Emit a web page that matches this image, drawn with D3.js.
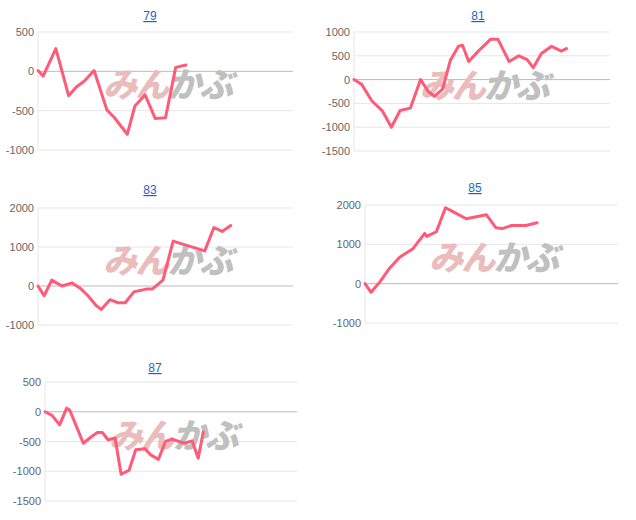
<!DOCTYPE html>
<html><head><meta charset="utf-8">
<script src="https://cdn.jsdelivr.net/npm/d3@7"></script>
<style>body{margin:0;background:#fff;font-family:Arial,"Liberation Sans",sans-serif}</style>
</head><body>
<svg id="chart" width="636" height="520"></svg>
<script>
// series: x position as step index, y as value
var idx79 = [0,1,3.5,6,7.5,9,11,13.5,15,17.5,19,21,23,25,27,29];
var val79 = [10,-60,290,-310,-200,-130,10,-490,-590,-800,-440,-300,-600,-590,50,80];

var idx81 = [0,1.5,3.5,5.5,7.3,9,11,13,14.5,15.7,17.3,18.8,20.4,21.2,22.4,24.3,26.7,28.1,30.3,32.2,33.8,35,36.6,38.6,40.5,41.5];
var val81 = [0,-100,-450,-650,-1000,-650,-600,0,-250,-350,-200,400,700,720,380,600,850,850,380,500,420,250,550,700,600,650];

var idx83 = [0,1.2,2.7,4.7,6.7,8.2,9.8,11.4,12.4,14.1,15.7,17.1,18.8,21.2,22.4,24.5,26.5,28.2,32.7,34.5,36.1,37.8];
var val83 = [0,-250,150,0,80,-50,-250,-500,-600,-350,-430,-430,-150,-80,-80,150,1150,1080,900,1500,1400,1550];

var idx85 = [0,1.2,2.9,4.9,6.9,9.4,11.8,12.2,14.1,15.9,17.1,20,24,25.9,27.1,29,31.8,34];
var val85 = [0,-220,40,400,680,880,1280,1200,1320,1930,1850,1650,1750,1420,1400,1480,1480,1550];

var idx87 = [0,1.4,2.9,4.3,4.9,6.5,7.6,9.2,10.4,11.4,12.5,13.9,15.1,16.7,18,19.8,20.9,22.5,23.9,25.2,27.6,29.2,30.4,31.4];
var val87 = [0,-60,-220,60,30,-300,-530,-420,-350,-350,-470,-440,-1050,-980,-640,-620,-720,-800,-500,-460,-530,-490,-780,-340];

var panels = [
  {title:"79", idx:idx79, val:val79, l:38, r:293, t:32, b:150, max:500, min:-1000, step:500, tx:150, ty:20},
  {title:"81", idx:idx81, val:val81, l:354, r:610, t:32, b:151, max:1000, min:-1500, step:500, tx:478, ty:20},
  {title:"83", idx:idx83, val:val83, l:38, r:293, t:208, b:325, max:2000, min:-1000, step:1000, tx:150, ty:194},
  {title:"85", idx:idx85, val:val85, l:365, r:618, t:205, b:323, max:2000, min:-1000, step:1000, tx:475, ty:192},
  {title:"87", idx:idx87, val:val87, l:45, r:297, t:382, b:501, max:500, min:-1500, step:500, tx:155, ty:372}
];

var svg = d3.select("#chart");

panels.forEach(function(p) {
  var x = d3.scaleLinear().domain([0, 50]).range([p.l, p.r]);
  var y = d3.scaleLinear().domain([p.min, p.max]).range([p.b, p.t]);
  var ticks = d3.range(p.min, p.max + 1, p.step);
  var g = svg.append("g");

  // gridlines
  g.selectAll(".grid").data(ticks).enter().append("line")
    .attr("x1", p.l).attr("x2", p.r)
    .attr("y1", d => y(d)).attr("y2", d => y(d))
    .attr("stroke", d => d === 0 ? "#bbb" : "#e6e6e6").attr("stroke-width", 1);
  g.append("line").attr("x1", p.l).attr("x2", p.l).attr("y1", p.t).attr("y2", p.b)
    .attr("stroke", "#e6e6e6");

  g.selectAll(".tick").data(ticks).enter().append("text")
    .attr("x", p.l - 4).attr("y", d => y(d) + 4)
    .attr("text-anchor", "end").attr("font-size", 11).attr("fill", "#666")
    .text(d => d);

  // watermark
  var cx = (p.l + p.r) / 2 + 2, cy = p.t + 0.45 * (p.b - p.t) + 12;
  var wm = g.append("text").attr("transform", "translate(" + cx + "," + cy + ") skewX(-12)")
    .attr("text-anchor", "middle").attr("letter-spacing", -2)
    .attr("font-size", 34).attr("font-weight", "900")
    .attr("font-family", "'Noto Sans CJK JP',sans-serif");
  wm.append("tspan").attr("fill", "#ebbcbc").text("みん");
  wm.append("tspan").attr("fill", "#c0c0c0").text("かぶ");

  var line = d3.line().x((d, i) => x(p.idx[i])).y(d => y(d));
  g.append("path").datum(p.val).attr("d", line)
    .attr("fill", "none").attr("stroke", "#ff5a78").attr("stroke-width", 3)
    .attr("stroke-linejoin", "round").attr("stroke-linecap", "round");

  g.append("text").attr("x", p.tx).attr("y", p.ty).attr("text-anchor", "middle")
    .attr("font-size", 12).attr("fill", "#1a66c8").attr("text-decoration", "underline")
    .text(p.title);
});
</script>
</body></html>
